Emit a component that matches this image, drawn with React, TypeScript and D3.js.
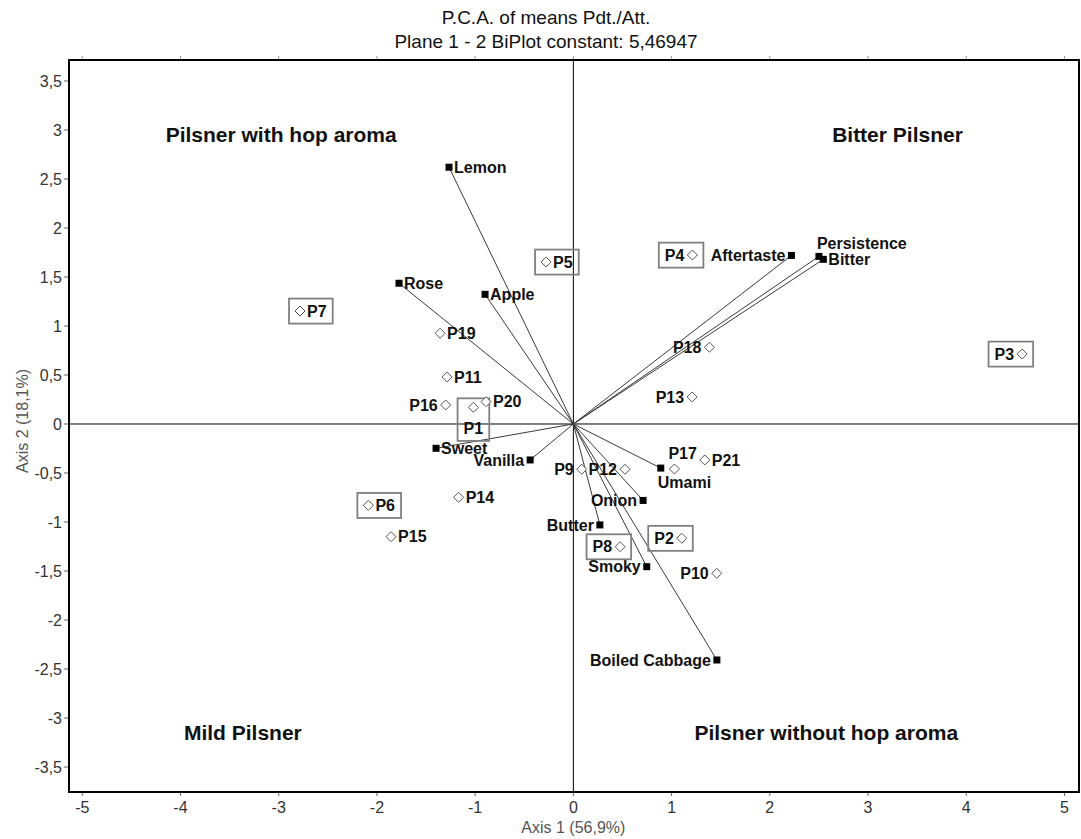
import React, { useEffect, useRef } from "react";
import * as d3 from "d3";

// ---------- data ----------
const titleLines = ["P.C.A. of means Pdt./Att.", "Plane 1 - 2 BiPlot constant: 5,46947"];
const xAxisTitle = "Axis 1 (56,9%)";
const yAxisTitle = "Axis 2 (18,1%)";

const attributeNames = ["Lemon", "Rose", "Apple", "Sweet", "Vanilla", "Aftertaste", "Persistence", "Bitter", "Umami", "Onion", "Butter", "Smoky", "Boiled Cabbage"];
const attributeAxis1 = [-1.266, -1.775, -0.899, -1.398, -0.44, 2.22, 2.5, 2.545, 0.89, 0.71, 0.27, 0.747, 1.461];
const attributeAxis2 = [2.62, 1.436, 1.323, -0.248, -0.367, 1.72, 1.71, 1.68, -0.45, -0.78, -1.03, -1.456, -2.408];

const productNames = ["P1", "P2", "P3", "P4", "P5", "P6", "P7", "P8", "P9", "P10", "P11", "P12", "P13", "P14", "P15", "P16", "P17", "P18", "P19", "P20", "P21"];
const productAxis1 = [-1.018, 1.104, 4.569, 1.212, -0.278, -2.087, -2.783, 0.476, 0.085, 1.46, -1.286, 0.526, 1.209, -1.168, -1.856, -1.3, 1.029, 1.385, -1.357, -0.889, 1.338];
const productAxis2 = [0.17, -1.166, 0.714, 1.724, 1.653, -0.83, 1.153, -1.252, -0.462, -1.524, 0.48, -0.462, 0.276, -0.748, -1.15, 0.194, -0.459, 0.783, 0.926, 0.228, -0.367];
const boxedProducts = ["P1", "P2", "P3", "P4", "P5", "P6", "P7", "P8"];

const quadrantLabels = ["Pilsner with hop aroma", "Bitter Pilsner", "Mild Pilsner", "Pilsner without hop aroma"];
const quadrantAxis1 = [-2.975, 3.3, -3.365, 2.575];
const quadrantAxis2 = [2.95, 2.95, -3.15, -3.15];

const xTicks = [-5, -4, -3, -2, -1, 0, 1, 2, 3, 4, 5];
const yTicks = [-3.5, -3, -2.5, -2, -1.5, -1, -0.5, 0, 0.5, 1, 1.5, 2, 2.5, 3, 3.5];

// label placement (style, not data)
const attrLabelPos: Record<string, string> = {
  Lemon: "r", Rose: "r", Apple: "r", Sweet: "r", Vanilla: "l", Aftertaste: "l",
  Persistence: "above", Bitter: "r", Umami: "below", Onion: "l", Butter: "l", Smoky: "l", "Boiled Cabbage": "l",
};
const prodLabelPos: Record<string, string> = {
  P1: "b", P2: "l", P3: "l", P4: "l", P5: "r", P6: "r", P7: "r", P8: "l", P9: "l", P10: "l",
  P11: "r", P12: "l", P13: "l", P14: "r", P15: "r", P16: "l", P17: "above", P18: "l", P19: "r", P20: "r", P21: "r",
};

const W = 1081;
const H = 839;
const FONT = "'Liberation Sans', Arial, sans-serif";
const fmt = (v: number) => String(v).replace(".", ",");

export default function App() {
  const ref = useRef<SVGSVGElement | null>(null);

  useEffect(() => {
    const svg = d3.select(ref.current);
    svg.selectAll("*").remove();

    const left = 69, right = 1079, top = 60, bottom = 792;
    const x = d3.scaleLinear().domain([-5.135, 5.148]).range([left, right]);
    const y = d3.scaleLinear().domain([3.714, -3.755]).range([top, bottom]);

    svg.append("rect").attr("width", W).attr("height", H).attr("fill", "#fff");

    // title
    titleLines.forEach((t, i) => {
      svg.append("text").attr("x", 546).attr("y", 24 + i * 24).attr("text-anchor", "middle")
        .attr("font-family", FONT).attr("font-size", 19).attr("fill", "#111").text(t);
    });

    // ticks
    const g = svg.append("g");
    xTicks.forEach((t) => {
      g.append("line").attr("x1", x(t)).attr("x2", x(t)).attr("y1", bottom).attr("y2", bottom + 4).attr("stroke", "#666");
      g.append("line").attr("x1", x(t)).attr("x2", x(t)).attr("y1", top).attr("y2", top - 4).attr("stroke", "#999");
      g.append("text").attr("x", x(t)).attr("y", bottom + 21).attr("text-anchor", "middle")
        .attr("font-family", FONT).attr("font-size", 16).attr("fill", "#333").text(fmt(t));
    });
    yTicks.forEach((t) => {
      g.append("line").attr("x1", left - 5).attr("x2", left).attr("y1", y(t)).attr("y2", y(t)).attr("stroke", "#666");
      g.append("text").attr("x", left - 7).attr("y", y(t)).attr("dy", "0.35em").attr("text-anchor", "end")
        .attr("font-family", FONT).attr("font-size", 16).attr("fill", "#333").text(fmt(t));
    });

    svg.append("text").attr("x", x(0)).attr("y", 833).attr("text-anchor", "middle")
      .attr("font-family", FONT).attr("font-size", 16).attr("fill", "#555").text(xAxisTitle);
    svg.append("text").attr("transform", `translate(28,${y(0) - 3}) rotate(-90)`).attr("text-anchor", "middle")
      .attr("font-family", FONT).attr("font-size", 16).attr("fill", "#555").text(yAxisTitle);

    // axes through origin
    svg.append("line").attr("x1", left).attr("x2", right).attr("y1", y(0)).attr("y2", y(0)).attr("stroke", "#000");
    svg.append("line").attr("x1", x(0)).attr("x2", x(0)).attr("y1", top).attr("y2", bottom).attr("stroke", "#000");

    // quadrant labels
    quadrantLabels.forEach((q, i) => {
      svg.append("text").attr("x", x(quadrantAxis1[i])).attr("y", y(quadrantAxis2[i])).attr("dy", "0.35em")
        .attr("text-anchor", "middle").attr("font-family", FONT).attr("font-weight", "bold")
        .attr("font-size", 21).attr("fill", "#111").text(q);
    });

    // vectors
    attributeNames.forEach((n, i) => {
      svg.append("line").attr("x1", x(0)).attr("y1", y(0)).attr("x2", x(attributeAxis1[i])).attr("y2", y(attributeAxis2[i]))
        .attr("stroke", "#3a3a3a").attr("stroke-width", 1);
    });

    // attribute markers + labels
    attributeNames.forEach((n, i) => {
      const px = x(attributeAxis1[i]);
      const py = y(attributeAxis2[i]);
      svg.append("rect").attr("x", px - 3.5).attr("y", py - 3.5).attr("width", 7).attr("height", 7).attr("fill", "#000");
      const pos = attrLabelPos[n];
      const t = svg.append("text").attr("font-family", FONT).attr("font-weight", "bold").attr("font-size", 16)
        .attr("fill", "#111").attr("dy", "0.35em").text(n);
      if (pos === "r") t.attr("x", px + 5).attr("y", py).attr("text-anchor", "start");
      else if (pos === "l") t.attr("x", px - 6).attr("y", py).attr("text-anchor", "end");
      else if (pos === "above") t.attr("x", px - 2).attr("y", py - 13).attr("text-anchor", "start");
      else if (pos === "below") t.attr("x", px - 3).attr("y", py + 14).attr("text-anchor", "start");
    });

    // products
    productNames.forEach((n, i) => {
      const px = x(productAxis1[i]);
      const py = y(productAxis2[i]);
      const grp = svg.append("g");
      const s = 5;
      grp.append("path").attr("d", `M${px},${py - s}L${px + s},${py}L${px},${py + s}L${px - s},${py}Z`)
        .attr("fill", "#fff").attr("stroke", "#555").attr("stroke-width", 1);
      const pos = prodLabelPos[n];
      const t = grp.append("text").attr("font-family", FONT).attr("font-weight", "bold").attr("font-size", 16)
        .attr("fill", "#111").attr("dy", "0.35em").text(n);
      if (pos === "r") t.attr("x", px + 7).attr("y", py).attr("text-anchor", "start");
      else if (pos === "l") t.attr("x", px - 8).attr("y", py).attr("text-anchor", "end");
      else if (pos === "b") t.attr("x", px).attr("y", py + 21).attr("text-anchor", "middle");
      else if (pos === "above") t.attr("x", px - 6).attr("y", py - 16).attr("text-anchor", "start");
      if (boxedProducts.includes(n)) {
        const bb = (grp.node() as SVGGElement).getBBox();
        grp.append("rect").attr("x", bb.x - 6).attr("y", bb.y - 4).attr("width", bb.width + 12).attr("height", bb.height + 8)
          .attr("fill", "none").attr("stroke", "#808080").attr("stroke-width", 1.8);
      }
    });

    // frame
    svg.append("rect").attr("x", left).attr("y", top).attr("width", right - left).attr("height", bottom - top)
      .attr("fill", "none").attr("stroke", "#000").attr("stroke-width", 2);
  }, []);

  return (
    <svg ref={ref} width={W} height={H} style={{ position: "absolute", left: 0, top: 0, display: "block" }} />
  );
}
